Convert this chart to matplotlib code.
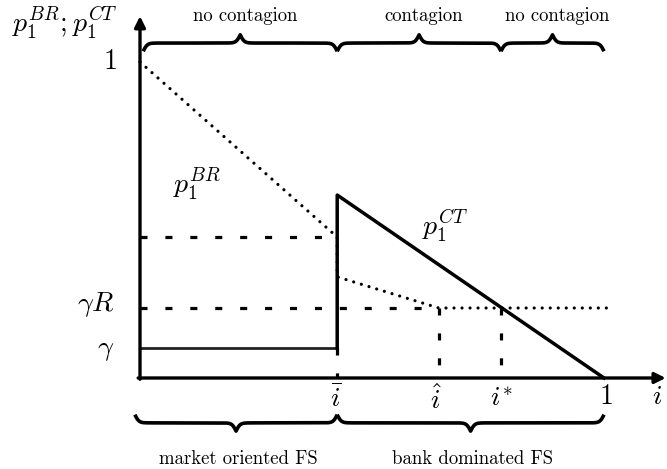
import numpy as np
import matplotlib
matplotlib.use("Agg")
import matplotlib.pyplot as plt

plt.rcParams['mathtext.fontset'] = 'cm'
plt.rcParams['font.family'] = 'serif'
plt.rcParams['font.serif'] = ['cmr10', 'DejaVu Serif']

# key points
i_bar = 0.425
i_hat = 0.644
i_star = 0.778
gamma = 0.095
gamma_R = 0.2215

# p1^BR (dotted)
br_x = [0.0, i_bar, i_bar, i_hat, 1.013]
br_y = [1.0, 0.446, 0.320, gamma_R, gamma_R]

# p1^CT (solid)
ct_low_x = [0.0, i_bar]
ct_low_y = [gamma, gamma]
ct_x = [i_bar, i_bar, 1.0]
ct_y = [gamma, 0.579, 0.0]

top_braces = [(0.007, i_bar, 'no contagion'),
              (i_bar, i_star, 'contagion'),
              (i_star, 1.0, 'no contagion')]
bottom_braces = [(-0.011, i_bar, 'market oriented FS'),
                 (i_bar, 1.0, 'bank dominated FS')]


def brace(ax, x0, x1, y, amp, beta=230.0):
    half = np.linspace(x0, (x0 + x1) / 2, 200)
    yh = (1 / (1 + np.exp(-beta * (half - half[0])))
          + 1 / (1 + np.exp(-beta * (half - half[-1]))))
    xs = np.concatenate([half, (x0 + x1) - half[-2::-1]])
    ys = np.concatenate([yh, yh[-2::-1]])
    ax.plot(xs, y + (ys - 1) * amp, color='k', lw=2.6,
            solid_capstyle='butt')


fig = plt.figure(figsize=(6.67, 4.69), dpi=100)
ax = fig.add_axes([0, 0, 1, 1])
ax.set_xlim(-140 / 464, 527 / 464)
ax.set_ylim(-91 / 316, 378 / 316)
ax.axis('off')

# axes with arrows
ax.annotate('', xy=(0, 1.145), xytext=(0, -0.004),
            arrowprops=dict(arrowstyle='-|>', lw=2.4, color='k',
                            mutation_scale=16, shrinkA=0, shrinkB=0))
ax.annotate('', xy=(1.133, 0), xytext=(-0.004, 0),
            arrowprops=dict(arrowstyle='-|>', lw=2.4, color='k',
                            mutation_scale=16, shrinkA=0, shrinkB=0))

dash = dict(color='k', lw=2.3, linestyle=(0, (2.2, 5.6)))
ax.plot([0, i_bar], [br_y[1], br_y[1]], **dash)
ax.plot([0, i_hat], [gamma_R, gamma_R], **dash)
ax.plot([i_hat, i_hat], [gamma_R, 0], **dash)
ax.plot([i_star, i_star], [gamma_R, 0], **dash)
ax.plot([i_bar, i_bar], [gamma, 0], **dash)

ax.plot(ct_low_x, ct_low_y, color='#222222', lw=2.0)
ax.plot(ct_x, ct_y, color='k', lw=2.5)
ax.plot(br_x, br_y, color='k', lw=2.3, linestyle=(0, (0.01, 2.5)),
        dash_capstyle='round')

for x0, x1, lab in top_braces:
    brace(ax, x0, x1, 1.060, 0.052)
    ax.text((x0 + x1) / 2 + 0.01, 1.145, lab, fontsize=13.5,
            ha='center', va='center')
for x0, x1, lab in bottom_braces:
    brace(ax, x0, x1, -0.142, -0.052)
    ax.text((x0 + x1) / 2 + 0.005, -0.255, lab, fontsize=13.5,
            ha='center', va='center')

ms = 20
ax.text(-0.048, 1.125, r'$p_1^{BR};p_1^{CT}$', fontsize=ms, ha='right', va='center')
ax.text(-0.05, 1.0, r'$1$', fontsize=ms, ha='right', va='center')
ax.text(-0.055, gamma_R + 0.012, r'$\gamma R$', fontsize=ms, ha='right', va='center')
ax.text(-0.055, gamma - 0.005, r'$\gamma$', fontsize=ms, ha='right', va='center')
ax.text(0.123, 0.615, r'$p_1^{BR}$', fontsize=ms, ha='center', va='center')
ax.text(0.658, 0.48, r'$p_1^{CT}$', fontsize=ms, ha='center', va='center')

ax.text(i_bar, -0.07, r'$\bar{i}$', fontsize=ms, ha='center', va='center')
ax.text(i_hat - 0.006, -0.07, r'$\hat{i}$', fontsize=ms, ha='center', va='center')
ax.text(i_star + 0.002, -0.065, r'$i^{*}$', fontsize=ms, ha='center', va='center')
ax.text(1.003, -0.06, r'$1$', fontsize=ms, ha='center', va='center')
ax.text(1.115, -0.06, r'$i$', fontsize=ms, ha='center', va='center')

fig.savefig('out.png', dpi=100)
